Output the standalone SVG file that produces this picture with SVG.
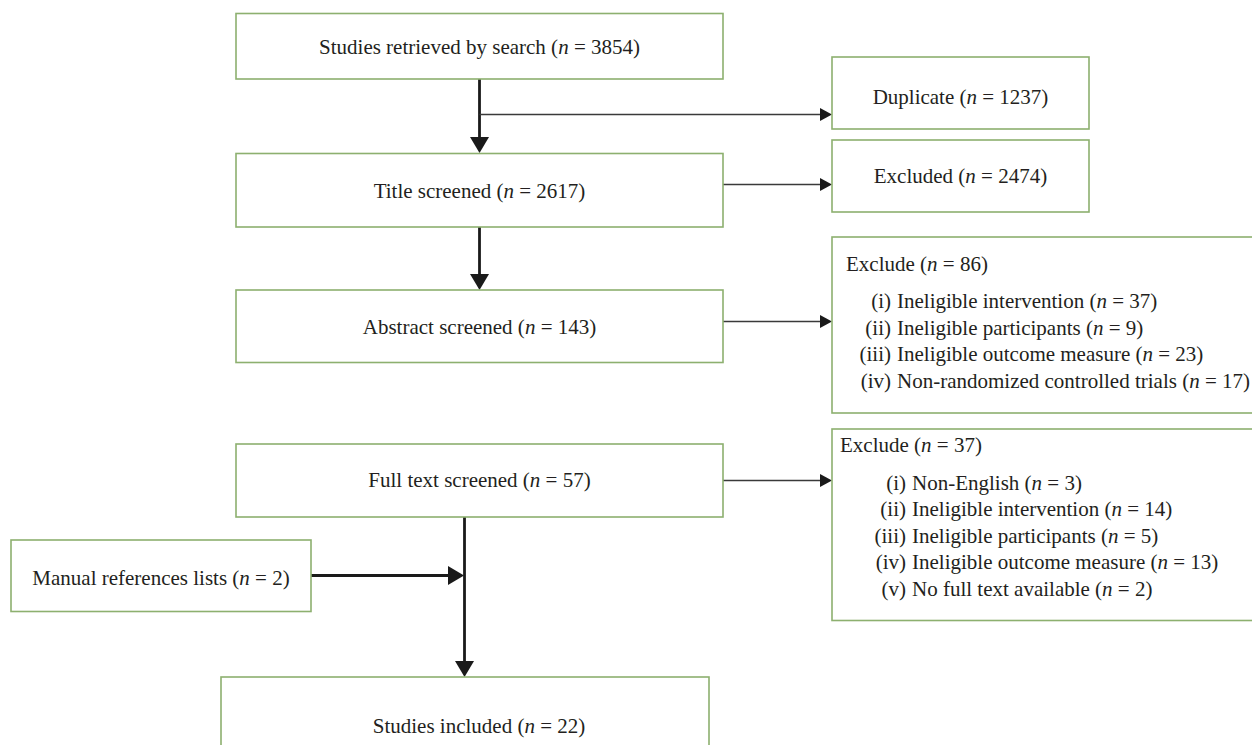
<svg xmlns="http://www.w3.org/2000/svg" width="1252" height="745" viewBox="0 0 1252 745">
<style>
.box{fill:#ffffff;stroke:#8db06f;stroke-width:1.6}
.t{font-family:"Liberation Serif","Times New Roman",serif;font-size:21px;fill:#231f20}
.c{text-anchor:middle}
.e{text-anchor:end}
.i{font-style:italic}
.thick{stroke:#1a1a1a;stroke-width:2.8;fill:none}
.thin{stroke:#3a3a3a;stroke-width:1.7;fill:none}
</style>
<defs>
<marker id="ahThick" markerUnits="userSpaceOnUse" viewBox="0 0 16 19" markerWidth="16" markerHeight="19" refX="4" refY="9.5" orient="auto">
<path d="M0,0 L16,9.5 L0,19 Z" fill="#1a1a1a"/>
</marker>
<marker id="ahThin" markerUnits="userSpaceOnUse" viewBox="0 0 12 13" markerWidth="12" markerHeight="13" refX="4" refY="6.5" orient="auto">
<path d="M0,0 L12,6.5 L0,13 Z" fill="#1a1a1a"/>
</marker>
</defs>
<rect width="1252" height="745" fill="#ffffff"/>

<g id="connectors">
<line class="thick" x1="479.5" y1="79" x2="479.5" y2="141" marker-end="url(#ahThick)"/>
<line class="thin" x1="479.5" y1="114.5" x2="824" y2="114.5" marker-end="url(#ahThin)"/>
<line class="thin" x1="723" y1="184.5" x2="824" y2="184.5" marker-end="url(#ahThin)"/>
<line class="thick" x1="479.5" y1="227" x2="479.5" y2="278" marker-end="url(#ahThick)"/>
<line class="thin" x1="723" y1="321.5" x2="824" y2="321.5" marker-end="url(#ahThin)"/>
<line class="thin" x1="723" y1="480.5" x2="824" y2="480.5" marker-end="url(#ahThin)"/>
<line class="thick" x1="464.5" y1="517" x2="464.5" y2="665" marker-end="url(#ahThick)"/>
<line class="thick" x1="311" y1="575.5" x2="452" y2="575.5" stroke-width="3.2" marker-end="url(#ahThick)"/>
</g>

<g id="search">
<rect class="box" x="236" y="13.5" width="487" height="65.5"/>
<text class="t c" x="479.5" y="54">Studies retrieved by search (<tspan class="i">n</tspan> = 3854)</text>
</g>
<g id="duplicate">
<rect class="box" x="832" y="57" width="257" height="72"/>
<text class="t c" x="960.5" y="103.5">Duplicate (<tspan class="i">n</tspan> = 1237)</text>
</g>
<g id="title">
<rect class="box" x="236" y="153.5" width="487" height="73.5"/>
<text class="t c" x="479.5" y="197.5">Title screened (<tspan class="i">n</tspan> = 2617)</text>
</g>
<g id="excluded">
<rect class="box" x="832" y="140" width="257" height="72"/>
<text class="t c" x="960.5" y="183">Excluded (<tspan class="i">n</tspan> = 2474)</text>
</g>
<g id="abstract">
<rect class="box" x="236" y="290" width="487" height="72.5"/>
<text class="t c" x="479.5" y="334">Abstract screened (<tspan class="i">n</tspan> = 143)</text>
</g>
<g id="exclude86">
<rect class="box" x="832" y="237" width="440" height="176"/>
<text class="t" x="846" y="270.5">Exclude (<tspan class="i">n</tspan> = 86)</text>
<text class="t e" x="891" y="308">(i)</text>
<text class="t" x="897" y="308">Ineligible intervention (<tspan class="i">n</tspan> = 37)</text>
<text class="t e" x="891" y="334.5">(ii)</text>
<text class="t" x="897" y="334.5">Ineligible participants (<tspan class="i">n</tspan> = 9)</text>
<text class="t e" x="891" y="361">(iii)</text>
<text class="t" x="897" y="361">Ineligible outcome measure (<tspan class="i">n</tspan> = 23)</text>
<text class="t e" x="891" y="387.5">(iv)</text>
<text class="t" x="897" y="387.5">Non-randomized controlled trials (<tspan class="i">n</tspan> = 17)</text>
</g>
<g id="fulltext">
<rect class="box" x="236" y="444" width="487" height="73"/>
<text class="t c" x="479.5" y="487">Full text screened (<tspan class="i">n</tspan> = 57)</text>
</g>
<g id="exclude37">
<rect class="box" x="832" y="429" width="440" height="191.5"/>
<text class="t" x="840" y="452">Exclude (<tspan class="i">n</tspan> = 37)</text>
<text class="t e" x="906" y="489.5">(i)</text>
<text class="t" x="912" y="489.5">Non-English (<tspan class="i">n</tspan> = 3)</text>
<text class="t e" x="906" y="516">(ii)</text>
<text class="t" x="912" y="516">Ineligible intervention (<tspan class="i">n</tspan> = 14)</text>
<text class="t e" x="906" y="542.5">(iii)</text>
<text class="t" x="912" y="542.5">Ineligible participants (<tspan class="i">n</tspan> = 5)</text>
<text class="t e" x="906" y="569">(iv)</text>
<text class="t" x="912" y="569">Ineligible outcome measure (<tspan class="i">n</tspan> = 13)</text>
<text class="t e" x="906" y="595.5">(v)</text>
<text class="t" x="912" y="595.5">No full text available (<tspan class="i">n</tspan> = 2)</text>
</g>
<g id="manual">
<rect class="box" x="11" y="540" width="300" height="71.5"/>
<text class="t c" x="161" y="585">Manual references lists (<tspan class="i">n</tspan> = 2)</text>
</g>
<g id="included">
<rect class="box" x="221" y="677" width="488" height="100"/>
<text class="t c" x="479" y="733">Studies included (<tspan class="i">n</tspan> = 22)</text>
</g>
</svg>
